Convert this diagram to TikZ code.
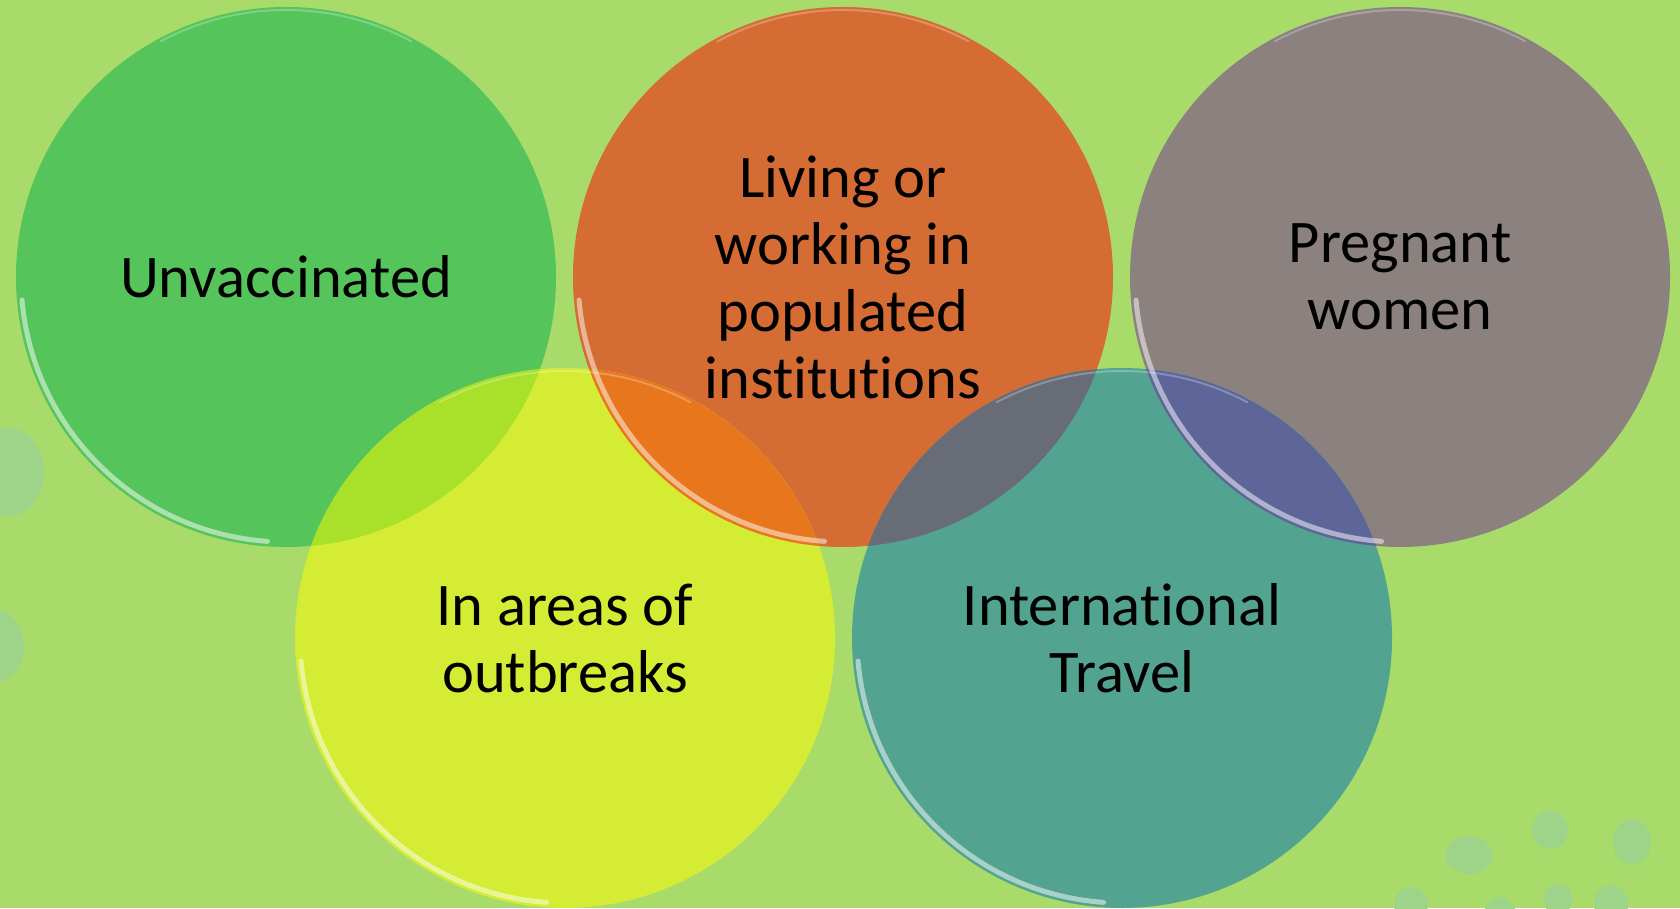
\documentclass[tikz,border=0pt]{standalone}
\usepackage{fontspec}
\setmainfont{Carlito}[Ligatures={NoCommon,NoDiscretionary,NoContextual}, Contextuals={NoAlternate}]
\definecolor{bgc}{HTML}{A9DB6A}
\definecolor{blobc}{HTML}{9DD48A}
\definecolor{cgreen}{HTML}{55C45B}
\definecolor{corange}{HTML}{D46C33}
\definecolor{cgray}{HTML}{8B8280}
\definecolor{cyellow}{HTML}{D4EC34}
\definecolor{cteal}{HTML}{53A391}
\definecolor{ogy}{HTML}{A8E02A}
\definecolor{ooy}{HTML}{E8761C}
\definecolor{oot}{HTML}{676C76}
\definecolor{ogt}{HTML}{5E6699}
\begin{document}
\begin{tikzpicture}[x=1pt,y=1pt,
  txt/.style={align=center, font=\fontsize{60.5}{67}\selectfont, text=black, inner sep=0pt},
  rimband/.style={draw=white, draw opacity=0.5, line width=5pt, line cap=round},
  rimtop/.style={draw=white, draw opacity=0.25, line width=2pt, line cap=round},
  blob/.style={fill=blobc}]
\useasboundingbox (0,0) rectangle (1680,908);
\fill[bgc] (0,0) rectangle (1680,908);
% decorative blobs
\fill[blob] (8,436) ellipse (36 and 44);
\fill[blob] (-8,262) ellipse (32 and 37);
\fill[blob] (1469,53) ellipse (23 and 19);
\fill[blob] (1550,78) ellipse (18 and 19);
\fill[blob] (1632,66) ellipse (19 and 23);
\fill[blob] (1411,3) ellipse (17 and 18);
\fill[blob] (1500,-7) ellipse (16 and 18);
\fill[blob] (1558,8) ellipse (14 and 16);
\fill[blob] (1611,3) ellipse (17 and 20);
% coordinates of circle centres
\coordinate (cG) at (286,631);
\coordinate (cO) at (843,631);
\coordinate (cP) at (1400,631);
\coordinate (cY) at (565,270);
\coordinate (cT) at (1122,270);
% circles
\fill[cgreen] (cG) circle (270);
\fill[corange] (cO) circle (270);
\fill[cgray] (cP) circle (270);
\fill[cyellow] (cY) circle (270);
\fill[cteal] (cT) circle (270);
% overlaps
\begin{scope}\clip (cG) circle (270); \fill[ogy] (cY) circle (270); \end{scope}
\begin{scope}\clip (cO) circle (270); \fill[ooy] (cY) circle (270); \end{scope}
\begin{scope}\clip (cO) circle (270); \fill[oot] (cT) circle (270); \end{scope}
\begin{scope}\clip (cP) circle (270); \fill[ogt] (cT) circle (270); \end{scope}
% glossy rims
\foreach \c in {cG,cO,cP,cY,cT}{
  \draw[rimband, shift={(\c)}] (185:265) arc (185:266:265);
  \draw[rimtop, shift={(\c)}] (62:267) arc (62:118:267);
}
% labels
\node[txt] (unv) at (cG) {Unvaccinated};
\node[txt] (liv) at (cO) {Living or\\working in\\populated\\institutions};
\node[txt] (pre) at (cP) {Pregnant\\women};
\node[txt] (are) at (cY) {In areas of\\outbreaks};
\node[txt] (int) at (cT) {International\\Travel};
\end{tikzpicture}
\end{document}
